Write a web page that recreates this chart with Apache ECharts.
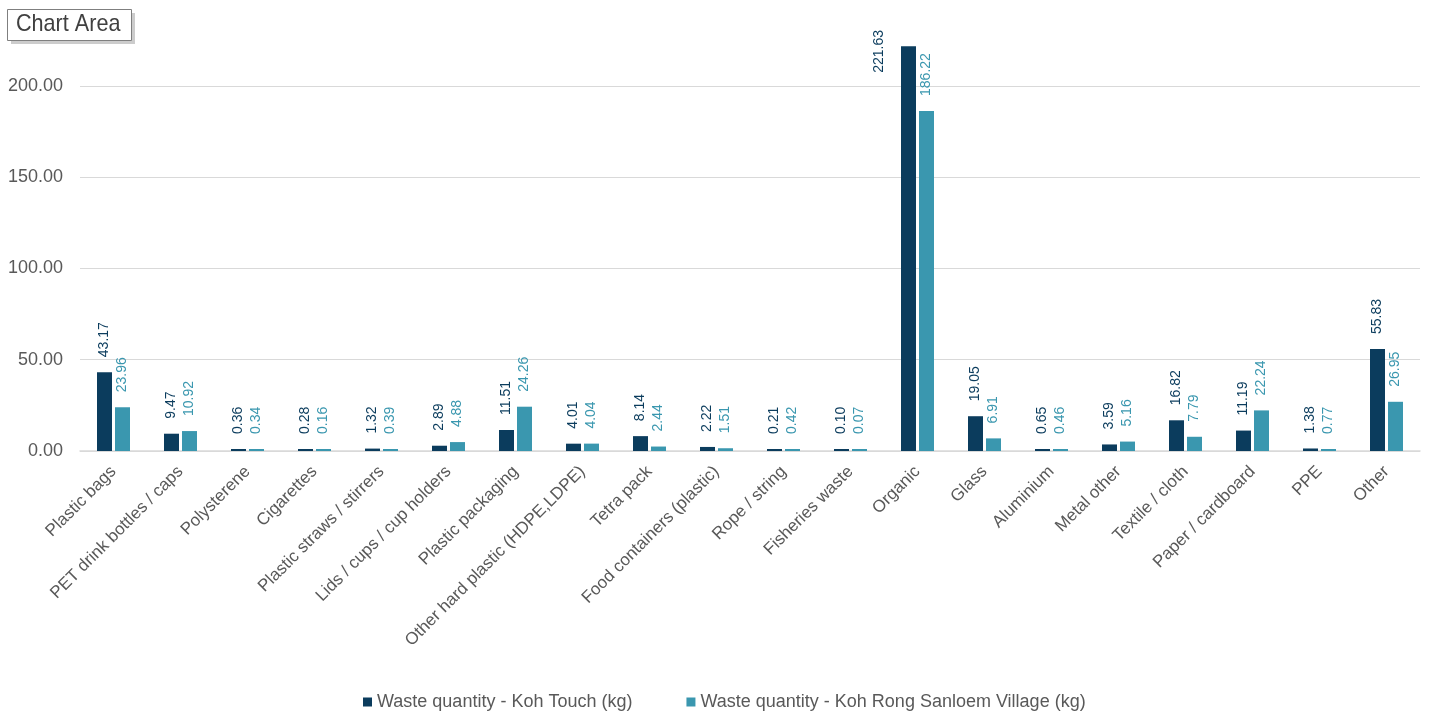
<!DOCTYPE html>
<html>
<head>
<meta charset="utf-8">
<script src="https://cdn.jsdelivr.net/npm/echarts@6/dist/echarts.min.js"></script>
<style>
html,body{margin:0;padding:0;background:#fff;}
#chart{width:1430px;height:714px;}
</style>
</head>
<body>
<div id="chart"></div>
<script>
const categories = ["Plastic bags","PET drink bottles / caps","Polysterene","Cigarettes","Plastic straws / stirrers","Lids / cups / cup holders","Plastic packaging","Other hard plastic (HDPE,LDPE)","Tetra pack","Food containers (plastic)","Rope / string","Fisheries waste","Organic","Glass","Aluminium","Metal other","Textile / cloth","Paper / cardboard","PPE","Other"];
const kohTouch = [43.17,9.47,0.36,0.28,1.32,2.89,11.51,4.01,8.14,2.22,0.21,0.10,221.63,19.05,0.65,3.59,16.82,11.19,1.38,55.83];
const kohRongSanloem = [23.96,10.92,0.34,0.16,0.39,4.88,24.26,4.04,2.44,1.51,0.42,0.07,186.22,6.91,0.46,5.16,7.79,22.24,0.77,26.95];
const seriesNames = ["Waste quantity - Koh Touch (kg)","Waste quantity - Koh Rong Sanloem Village (kg)"];
const yTicks = [0,50,100,150,200];

const DARK = '#0B3C5D';
const TEAL = '#3A97AF';
const FONT = "'Liberation Sans', Arial, sans-serif";

const chart = echarts.init(document.getElementById('chart'));
const maxVal = Math.max(...kohTouch);
const darkData = kohTouch.map(v => v === maxVal ? {
  value: v,
  label: { position: [-22, 5], align: 'center', verticalAlign: 'middle' }
} : v);

function labelCfg(color){
  return {
    show: true, position: 'top', rotate: 90, align: 'left', verticalAlign: 'middle',
    distance: 15, color: color, fontSize: 14, fontFamily: FONT,
    formatter: p => Number(p.value).toFixed(2)
  };
}

chart.setOption({
  animation: false,
  grid: { left: 80, right: 10, top: 0, bottom: 263, containLabel: false },
  legend: {
    bottom: 3, left: 363, padding: 0, itemWidth: 9, itemHeight: 9, icon: 'rect', itemGap: 54,
    textStyle: { color: '#595959', fontSize: 18, fontFamily: FONT },
    data: seriesNames
  },
  xAxis: {
    type: 'category', data: categories,
    axisLine: { lineStyle: { color: '#D9D9D9', width: 1.5 } },
    axisTick: { show: false },
    axisLabel: { interval: 0, rotate: 45, color: '#595959', fontSize: 17, fontFamily: FONT, margin: 18 }
  },
  yAxis: {
    type: 'value', min: 0, max: 247, interval: 50,
    axisLine: { show: false }, axisTick: { show: false },
    splitLine: { lineStyle: { color: ['#D9D9D9','#D9D9D9','#D9D9D9','#D9D9D9','#D9D9D9','rgba(0,0,0,0)'], width: 1 } },
    axisLabel: { color: '#595959', fontSize: 18, fontFamily: FONT, margin: 17,
      formatter: v => yTicks.includes(v) ? v.toFixed(2) : '' }
  },
  series: [
    { name: seriesNames[0], type: 'bar', data: darkData, barWidth: 15, barGap: '20%',
      itemStyle: { color: DARK }, label: labelCfg(DARK), barMinHeight: 2 },
    { name: seriesNames[1], type: 'bar', data: kohRongSanloem, barWidth: 15, barGap: '20%',
      itemStyle: { color: TEAL }, label: labelCfg(TEAL), barMinHeight: 2 }
  ],
  graphic: [
    { type: 'rect', left: 11, top: 13, shape: { width: 124, height: 31 },
      style: { fill: '#9a9a9a', opacity: 0.5 }, z: 100 },
    { type: 'rect', left: 7, top: 9, shape: { width: 124, height: 31 },
      style: { fill: '#fff', stroke: '#7f7f7f', lineWidth: 1 }, z: 101 },
    { type: 'text', x: 16, y: 12, scaleX: 0.9, z: 102,
      style: { text: 'Chart Area', fill: '#404040', fontSize: 24, fontFamily: FONT } }
  ]
});
</script>
</body>
</html>
